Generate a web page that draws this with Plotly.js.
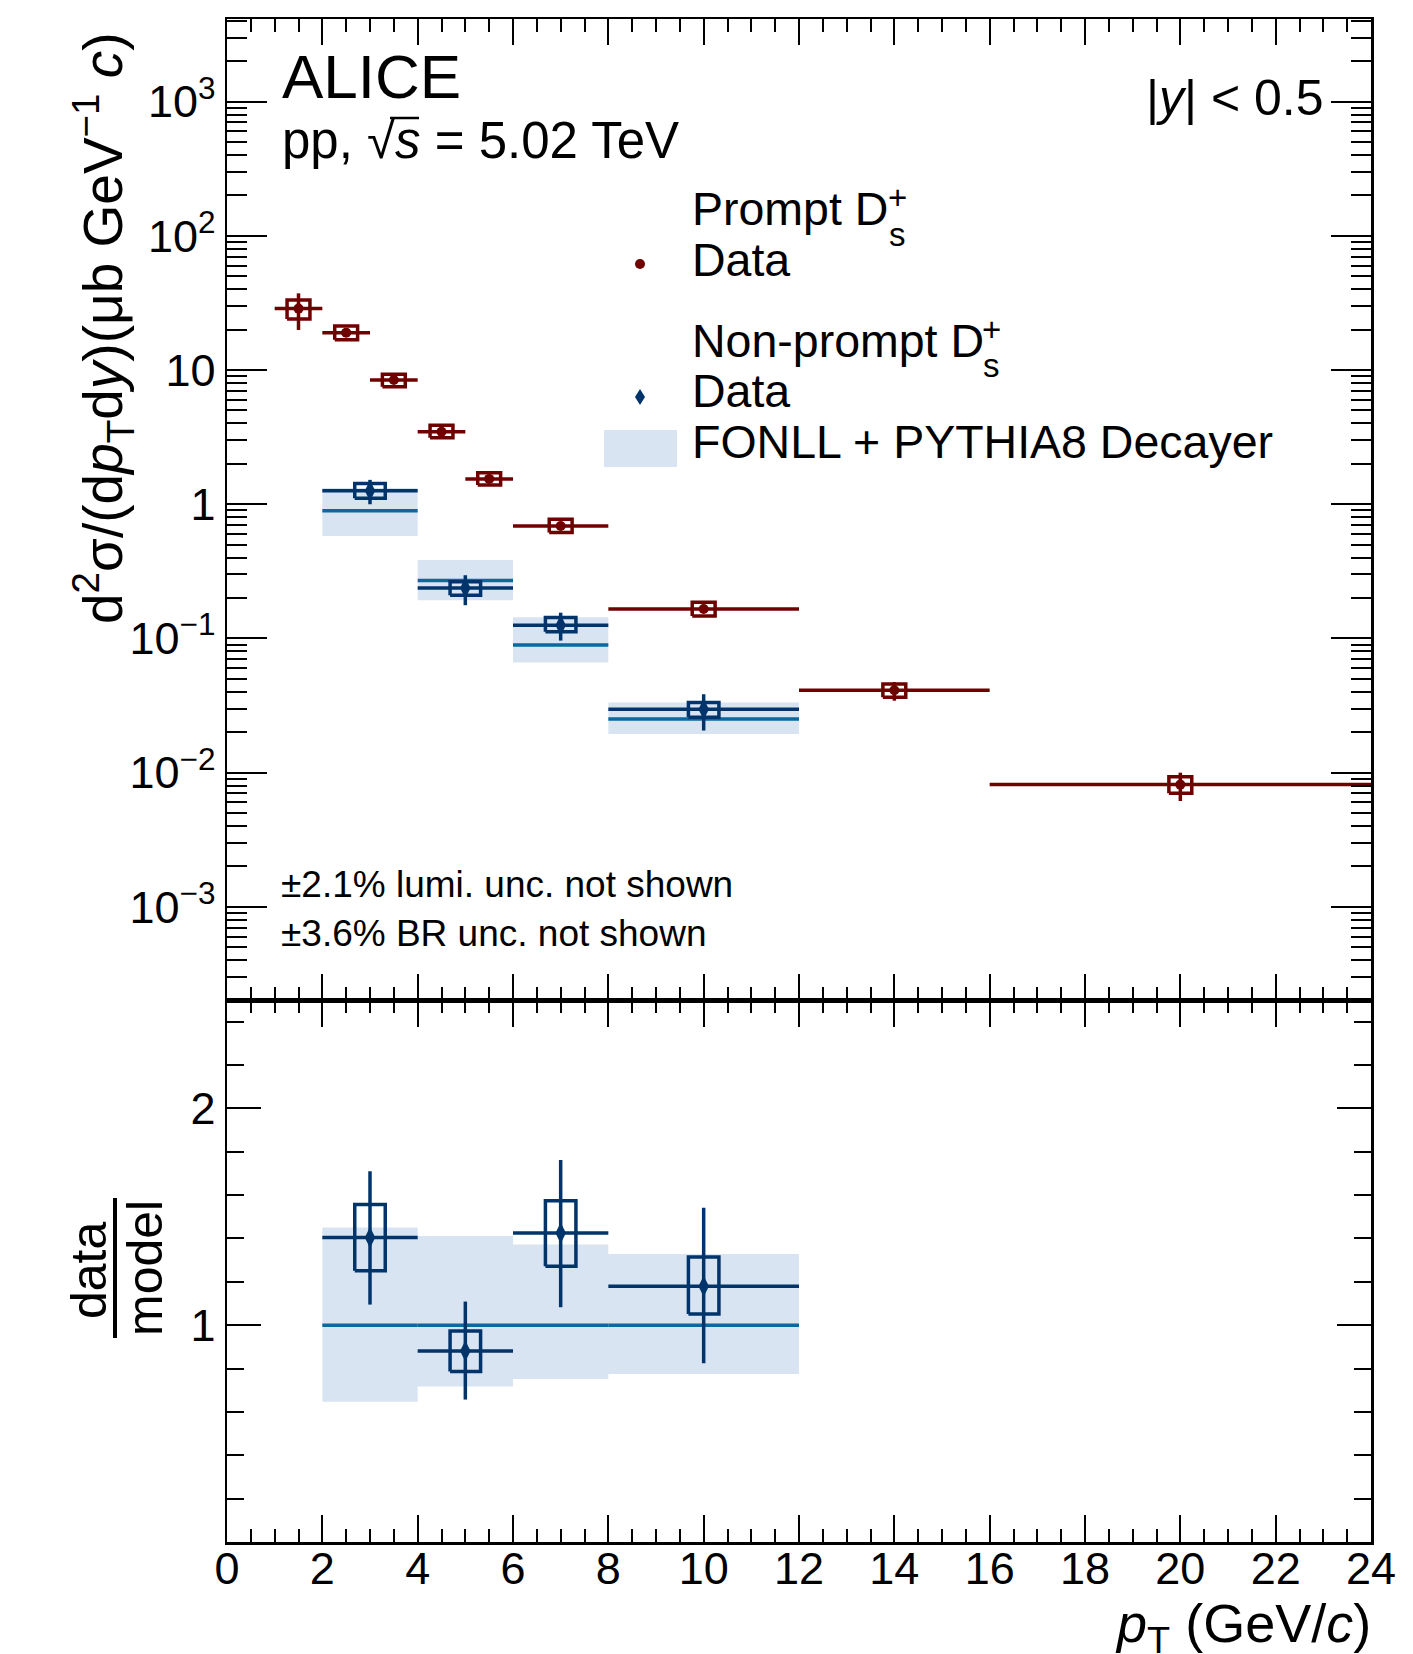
<!DOCTYPE html>
<html><head><meta charset="utf-8">
<script src="https://cdn.plot.ly/plotly-3.0.1.min.js"></script>
<style>body{margin:0;background:#fff}</style>
</head><body><div id="chart" style="width:1413px;height:1654px"></div>
<script>
// ---------------- DATA ----------------
// Prompt Ds+ cross section (ub GeV^-1 c)
const promptBinLo = [1, 2, 3, 4, 5, 6, 8, 12, 16];
const promptBinHi = [2, 3, 4, 5, 6, 8, 12, 16, 24];
const promptVal    = [28.7, 19.0, 8.44, 3.47, 1.545, 0.689, 0.166, 0.0411, 0.00815];
const promptStatLo = [19.9, 18.2, 8.10, 3.33, 1.48, 0.660, 0.158, 0.0344, 0.00615];
const promptStatHi = [37.3, 19.8, 8.80, 3.62, 1.61, 0.720, 0.174, 0.0474, 0.0100];
const promptSystLo = [24.0, 16.8, 7.51, 3.13, 1.39, 0.615, 0.147, 0.0365, 0.00703];
const promptSystHi = [33.3, 21.3, 9.31, 3.88, 1.72, 0.773, 0.186, 0.0458, 0.00934];

// Non-prompt Ds+ cross section
const npBinLo = [2, 4, 6, 8];
const npBinHi = [4, 6, 8, 12];
const npVal    = [1.26, 0.238, 0.1256, 0.0297];
const npStatLo = [1.00, 0.177, 0.0964, 0.0206];
const npStatHi = [1.52, 0.296, 0.1556, 0.0384];
const npSystLo = [1.11, 0.210, 0.112, 0.0259];
const npSystHi = [1.43, 0.265, 0.143, 0.0334];

// FONLL + PYTHIA8 Decayer
const fonllVal = [0.896, 0.270, 0.0893, 0.0251];
const fonllLo  = [0.580, 0.193, 0.0661, 0.0194];
const fonllHi  = [1.32, 0.385, 0.144, 0.0334];

// data / model
const ratioVal    = [1.405, 0.881, 1.425, 1.180];
const ratioStatLo = [1.095, 0.657, 1.083, 0.825];
const ratioStatHi = [1.710, 1.109, 1.762, 1.542];
const ratioSystLo = [1.251, 0.787, 1.272, 1.052];
const ratioSystHi = [1.557, 0.973, 1.574, 1.315];
const ratioModel   = [1, 1, 1, 1];
const ratioModelLo = [0.647, 0.717, 0.752, 0.775];
const ratioModelHi = [1.451, 1.411, 1.372, 1.328];

// tick labels
const xTickVals = [0, 2, 4, 6, 8, 10, 12, 14, 16, 18, 20, 22, 24];
const yTickVals = [1e-3, 1e-2, 1e-1, 1, 10, 100, 1000];
const yTickText = ['10<sup>−3</sup>', '10<sup>−2</sup>', '10<sup>−1</sup>', '1', '10', '10<sup>2</sup>', '10<sup>3</sup>'];
const rTickVals = [1, 2];
const rTickText = ['1', '2'];

// ---------------- STYLE ----------------
const FONT = 'Liberation Sans, Arial, Helvetica, sans-serif';
const C_PROMPT = '#6e0000';
const C_NP = '#00346a';
const C_MODEL = '#0b699e';
const C_BAND = '#d9e4f2';
const LW = 3.5;
const BOX_HW_PROMPT = 0.24;
const BOX_HW_NP = 0.32;

// ---------------- HELPERS ----------------
const mid = (lo, hi) => lo.map((v, i) => (v + hi[i]) / 2);
const half = (lo, hi) => lo.map((v, i) => (hi[i] - v) / 2);
function rects(x0, x1, y0, y1) {
  const xs = [], ys = [];
  for (let i = 0; i < x0.length; i++) {
    xs.push(x0[i], x1[i], x1[i], x0[i], x0[i], null);
    ys.push(y0[i], y0[i], y1[i], y1[i], y0[i], null);
  }
  return {x: xs, y: ys};
}
function segs(x0, x1, y) {
  const xs = [], ys = [];
  for (let i = 0; i < x0.length; i++) { xs.push(x0[i], x1[i], null); ys.push(y[i], y[i], null); }
  return {x: xs, y: ys};
}
function band(lo, hi, ylo, yhi, xa, ya) {
  const r = rects(lo, hi, ylo, yhi);
  return {type: 'scatter', mode: 'lines', x: r.x, y: r.y, xaxis: xa, yaxis: ya, fill: 'toself',
    fillcolor: C_BAND, line: {width: 0, color: C_BAND}, hoverinfo: 'skip', showlegend: false};
}
function line(lo, hi, y, xa, ya, color) {
  const s = segs(lo, hi, y);
  return {type: 'scatter', mode: 'lines', x: s.x, y: s.y, xaxis: xa, yaxis: ya,
    line: {width: LW, color: color}, hoverinfo: 'skip', showlegend: false};
}
function boxes(centers, hw, ylo, yhi, xa, ya, color) {
  const r = rects(centers.map(c => c - hw), centers.map(c => c + hw), ylo, yhi);
  return {type: 'scatter', mode: 'lines', x: r.x, y: r.y, xaxis: xa, yaxis: ya,
    line: {width: LW, color: color}, hoverinfo: 'skip', showlegend: false};
}
function points(lo, hi, val, slo, shi, xa, ya, color, symbol, size) {
  return {type: 'scatter', mode: 'markers', x: mid(lo, hi), y: val, xaxis: xa, yaxis: ya,
    marker: {color: color, symbol: symbol, size: size},
    error_x: {type: 'data', array: half(lo, hi), color: color, thickness: LW, width: 0},
    error_y: {type: 'data', symmetric: false, array: shi.map((v, i) => v - val[i]),
              arrayminus: val.map((v, i) => v - slo[i]), color: color, thickness: LW, width: 0},
    showlegend: false};
}

const promptC = mid(promptBinLo, promptBinHi);
const npC = mid(npBinLo, npBinHi);

const traces = [
  band(npBinLo, npBinHi, fonllLo, fonllHi, 'x', 'y'),
  line(npBinLo, npBinHi, fonllVal, 'x', 'y', C_MODEL),
  boxes(promptC, BOX_HW_PROMPT, promptSystLo, promptSystHi, 'x', 'y', C_PROMPT),
  points(promptBinLo, promptBinHi, promptVal, promptStatLo, promptStatHi, 'x', 'y', C_PROMPT, 'circle', 10),
  boxes(npC, BOX_HW_NP, npSystLo, npSystHi, 'x', 'y', C_NP),
  points(npBinLo, npBinHi, npVal, npStatLo, npStatHi, 'x', 'y', C_NP, 'diamond-tall', 15),
  band(npBinLo, npBinHi, ratioModelLo, ratioModelHi, 'x2', 'y2'),
  line(npBinLo, npBinHi, ratioModel, 'x2', 'y2', C_MODEL),
  boxes(npC, BOX_HW_NP, ratioSystLo, ratioSystHi, 'x2', 'y2', C_NP),
  points(npBinLo, npBinHi, ratioVal, ratioStatLo, ratioStatHi, 'x2', 'y2', C_NP, 'diamond-tall', 15)
];

// minor ticks of log axis
const logMinor = [];
for (let d = -4; d <= 3; d++) for (let k = 2; k <= 9; k++) {
  const v = k * Math.pow(10, d);
  if (v > 2.0e-4 && v < 4200) logMinor.push(v);
}

// ---------------- LAYOUT ----------------
const L = 227, R = 1371, T = 19, B = 1542, DIV = 1000;
const px = x => (x - L) / (R - L);
const py = y => (B - y) / (B - T);
function txt(text, x, baseline, size, anchor, extra) {
  return Object.assign({text: text, xref: 'paper', yref: 'paper', x: px(x), y: py(baseline - 0.3465 * size),
    xanchor: anchor || 'left', yanchor: 'middle', showarrow: false, borderpad: 0, borderwidth: 0,
    font: {size: size, family: FONT, color: 'black'}}, extra || {});
}
function ctr(text, x, y, size, extra) {
  return Object.assign({text: text, xref: 'paper', yref: 'paper', x: px(x), y: py(y),
    xanchor: 'center', yanchor: 'middle', showarrow: false, borderpad: 0, borderwidth: 0,
    font: {size: size, family: FONT, color: 'black'}}, extra || {});
}

const TICKFONT = {family: FONT, size: 45, color: 'black'};
const axisBase = {showline: true, linecolor: 'black', linewidth: 2.5, mirror: 'ticks', ticks: 'inside',
  tickcolor: 'black', tickwidth: 2, showgrid: false, zeroline: false, tickfont: TICKFONT};

const layout = {
  width: 1413, height: 1654,
  margin: {l: L, r: 1413 - R, t: T, b: 1654 - B, pad: 0},
  paper_bgcolor: 'white', plot_bgcolor: 'white',
  showlegend: false,
  font: {family: FONT, color: 'black'},
  xaxis: Object.assign({}, axisBase, {anchor: 'y', range: [0, 24], tickmode: 'array', tickvals: xTickVals,
    ticklen: 26, showticklabels: false,
    minor: {ticks: 'inside', ticklen: 13, tickwidth: 2, tickcolor: 'black', dtick: 0.5, tick0: 0, showgrid: false}}),
  xaxis2: Object.assign({}, axisBase, {anchor: 'y2', matches: 'x', range: [0, 24], tickmode: 'array', tickvals: xTickVals,
    ticklen: 27, ticklabelstandoff: -15,
    minor: {ticks: 'inside', ticklen: 13, tickwidth: 2, tickcolor: 'black', dtick: 0.5, tick0: 0, showgrid: false}}),
  yaxis: Object.assign({}, axisBase, {type: 'log', domain: [(B - DIV) / (B - T), 1], range: [-3.694, 3.616],
    tickmode: 'array', tickvals: yTickVals, ticktext: yTickText, ticklen: 40,
    minor: {ticks: 'inside', ticklen: 20, tickwidth: 2, tickcolor: 'black', tickmode: 'array', tickvals: logMinor, showgrid: false}}),
  yaxis2: Object.assign({}, axisBase, {domain: [0, (B - DIV) / (B - T)], range: [0, 2.5],
    tickmode: 'array', tickvals: rTickVals, ticktext: rTickText, ticklen: 34,
    minor: {ticks: 'inside', ticklen: 17, tickwidth: 2, tickcolor: 'black', tick0: 0, dtick: 0.2, showgrid: false}}),
  annotations: [
    txt('ALICE', 282, 97.7, 62),
    txt('pp, √<i>s</i> = 5.02 TeV', 282, 157.7, 51),
    txt('|<i>y</i>| &lt; 0.5', 1323, 115, 50, 'right'),
    txt('Prompt D', 692, 225, 46.5),
    ctr('+', 897, 198, 33),
    ctr('s', 897, 235, 33),
    txt('Data', 692, 276, 46.5),
    txt('Non-prompt D', 692, 356.7, 46.5),
    ctr('+', 991, 329, 33),
    ctr('s', 991, 366, 33),
    txt('Data', 692, 406.7, 46.5),
    txt('FONLL + PYTHIA8 Decayer', 692, 458.3, 46.5),
    txt('±2.1% lumi. unc. not shown', 281, 897, 37),
    txt('±3.6% BR unc. not shown', 281, 946, 37),
    ctr('d<sup>2</sup>σ/(d<i>p</i><sub>T</sub>d<i>y</i>)(μb GeV<sup>−1</sup> <i>c</i>)', 103, 328, 55, {textangle: -90}),
    ctr('data', 89, 1270, 50, {textangle: -90}),
    ctr('model', 145, 1268, 50, {textangle: -90}),
    txt('<i>p</i><sub>T</sub> (GeV/<i>c</i>)', 1371, 1646, 54, 'right'),
    txt('400558', 188, 1672, 24, 'left', {font: {size: 24, family: FONT, color: '#aaaaaa'}})
  ],
  shapes: [
    // radical bar over s
    {type: 'line', xref: 'paper', yref: 'paper', x0: px(390), x1: px(419), y0: py(118), y1: py(118),
      line: {width: 2.5, color: 'black'}},
    // legend symbols
    {type: 'circle', xref: 'paper', yref: 'paper', x0: px(635), x1: px(645), y0: py(269), y1: py(259),
      fillcolor: C_PROMPT, line: {width: 0}},
    {type: 'path', xref: 'paper', yref: 'paper',
      path: 'M ' + px(640) + ' ' + py(389) + ' L ' + px(645) + ' ' + py(397) + ' L ' + px(640) + ' ' + py(405) + ' L ' + px(635) + ' ' + py(397) + ' Z',
      fillcolor: C_NP, line: {width: 0}},
    {type: 'rect', xref: 'paper', yref: 'paper', x0: px(604), x1: px(677), y0: py(467), y1: py(430),
      fillcolor: C_BAND, line: {width: 0}},
    // fraction bar of data/model
    {type: 'line', xref: 'paper', yref: 'paper', x0: px(115), x1: px(115), y0: py(1198), y1: py(1338),
      line: {width: 4, color: 'black'}}
  ]
};

Plotly.newPlot('chart', traces, layout, {staticPlot: true, displayModeBar: false});
</script>
</body></html>
